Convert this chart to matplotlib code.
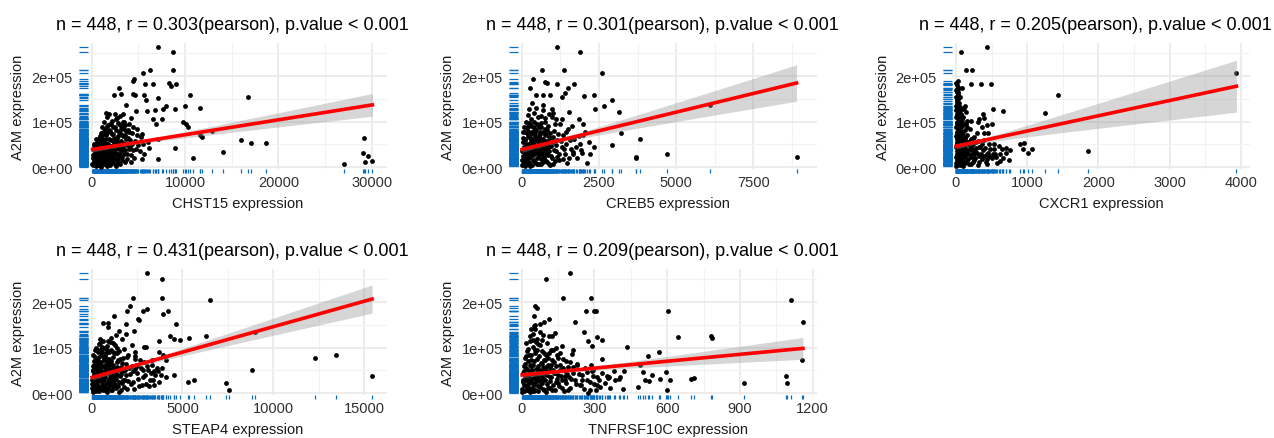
import numpy as np
import matplotlib.pyplot as plt

plt.rcParams['font.family'] = ['Liberation Sans', 'DejaVu Sans']

W, H = 1274, 439

genes = ["CHST15", "CREB5", "CXCR1", "STEAP4", "TNFRSF10C"]
r_values = ["0.303", "0.301", "0.205", "0.431", "0.209"]
n_samples = 448

# points (x = gene expression, y = A2M expression)
chst15_pts = [
    (7070, 265000), (8680, 254000), (8680, 213000), (6210, 214000), (5460, 207000), (4540, 193000),
    (4390, 190000), (5750, 182000), (6540, 182000), (8250, 184000), (8500, 178000), (9000, 183000),
    (2930, 174000), (2390, 158000), (3110, 161000), (4390, 160000), (4680, 159000), (5610, 158000),
    (5820, 148000), (7140, 153000), (10540, 158000), (16750, 154000), (7960, 134000), (7610, 128000),
    (6790, 126000), (8960, 128000), (10040, 135000), (11570, 130000), (3680, 136000), (4750, 124000),
    (5930, 124000), (1540, 119000), (6540, 106000), (7540, 106000), (9750, 99000), (10110, 95000),
    (10320, 89000), (6860, 95000), (5430, 72000), (11600, 70000), (11790, 67000), (12890, 79000),
    (15960, 60000), (17040, 53000), (18640, 53000), (14110, 34000), (10820, 20000), (8960, 42000),
    (7110, 62000), (7110, 17000), (6110, 43000), (5390, 18000), (29180, 64000), (29110, 32000),
    (29610, 24000), (30070, 13000), (29290, 11000), (27040, 7000), (4250, 11000),
    (150, 5000), (300, 12000), (420, 3000), (500, 22000), (650, 8000), (700, 30000), (820, 15000),
    (900, 41000), (980, 26000), (1050, 6000), (1100, 52000), (1200, 35000), (1250, 18000),
    (1320, 60000), (1400, 44000), (1450, 9000), (1500, 28000), (1580, 70000), (1650, 50000),
    (1700, 14000), (1780, 38000), (1850, 82000), (1900, 62000), (1950, 24000), (2050, 46000),
    (2100, 95000), (2150, 10000), (2200, 33000), (2280, 72000), (2350, 55000), (2420, 20000),
    (2500, 88000), (2550, 40000), (2620, 105000), (2700, 64000), (2750, 15000), (2820, 48000),
    (2900, 78000), (2950, 30000), (3050, 112000), (3100, 58000), (3200, 90000), (3250, 22000),
    (3350, 68000), (3400, 42000), (3500, 100000), (3600, 52000), (3700, 80000), (3800, 30000),
    (3900, 65000), (4000, 95000), (4150, 45000), (4300, 75000), (4450, 38000), (4600, 58000),
    (4800, 85000), (5000, 48000), (5300, 66000), (5600, 30000), (6000, 55000), (250, 30000),
    (350, 45000), (550, 55000), (750, 65000), (600, 38000), (950, 75000), (1150, 88000),
    (1350, 100000), (1600, 110000), (1800, 118000), (2000, 5000), (2600, 3000), (1000, 1000),
    (3000, 8000), (3600, 12000), (100, 20000), (200, 48000), (480, 62000), (780, 48000),
    (1250, 72000), (1720, 92000), (2450, 118000), (2850, 98000), (3350, 118000), (4200, 108000),
    (1600, 3000), (2300, 12000), (1300, 25000), (900, 58000), (2000, 80000), (2750, 30000),
    (3450, 85000),
]
chst15_core = [
    (80, 8000), (120, 26000), (180, 40000), (220, 14000), (260, 52000), (320, 4000), (380, 34000),
    (440, 18000), (520, 44000), (580, 10000), (620, 28000), (680, 52000), (720, 4000), (760, 22000),
    (840, 36000), (880, 68000), (940, 12000), (1000, 46000), (1040, 30000), (1080, 64000),
    (1120, 16000), (1180, 42000), (1220, 78000), (1280, 8000), (1340, 34000), (1380, 54000),
    (1420, 84000), (1480, 20000), (1520, 42000), (1560, 62000), (1620, 30000), (1680, 76000),
    (1720, 6000), (1760, 52000), (1820, 24000), (1880, 44000), (1920, 96000), (1980, 34000),
    (2020, 60000), (2080, 18000), (2120, 74000), (2180, 42000), (2240, 26000), (2300, 88000),
    (2360, 36000), (2400, 64000), (2460, 8000), (2520, 50000), (2580, 28000), (2640, 82000),
    (2680, 44000), (2740, 58000), (2800, 20000), (2860, 68000), (2920, 40000), (2980, 92000),
    (3020, 24000), (3080, 50000), (3140, 74000), (3180, 36000), (3260, 16000), (3300, 100000),
    (3380, 54000), (3440, 28000), (3520, 70000), (3580, 38000), (3660, 62000), (3740, 18000),
    (3820, 48000), (3880, 82000), (3960, 40000), (4080, 60000), (4180, 26000), (4350, 50000),
    (4520, 20000), (4700, 40000), (4900, 70000), (5200, 36000), (5500, 50000), (1100, 24000),
    (1400, 14000), (1700, 33000), (2000, 22000), (2300, 48000), (2600, 62000), (2900, 10000),
    (3200, 45000), (500, 36000), (800, 4000), (1600, 90000), (2200, 102000), (2700, 108000),
    (3100, 84000), (3600, 92000), (4000, 78000), (4400, 88000),
]
creb5_pts = [
    (1133, 265000), (1900, 254000), (670, 213000), (1360, 213000), (2590, 207000), (380, 194000),
    (755, 188000), (810, 185000), (1130, 182000), (1490, 175000), (1680, 182000), (270, 174000),
    (460, 158000), (680, 158000), (920, 159000), (1290, 154000), (1410, 163000), (2020, 157000),
    (2350, 159000), (2930, 148000), (2650, 134000), (2370, 127000), (3150, 122000), (680, 136000),
    (970, 128000), (1530, 122000), (1020, 120000), (1320, 105000), (1870, 105000), (1990, 95000),
    (1620, 91000), (3210, 76000), (3820, 61000), (2930, 49000), (2190, 56000), (2050, 78000),
    (1930, 37000), (2110, 9500), (3690, 22000), (3690, 20000), (4710, 28000), (8900, 22000),
    (6100, 136000), (1670, 33000), (1520, 20000),
    (20, 5000), (40, 25000), (60, 45000), (80, 12000), (100, 60000), (120, 32000), (140, 8000),
    (160, 75000), (180, 50000), (200, 20000), (220, 90000), (240, 38000), (260, 65000), (280, 3000),
    (300, 105000), (320, 55000), (340, 28000), (360, 80000), (380, 15000), (400, 120000),
    (420, 44000), (440, 68000), (460, 10000), (480, 95000), (500, 35000), (520, 58000),
    (540, 110000), (560, 22000), (580, 78000), (600, 48000), (620, 6000), (640, 88000),
    (660, 40000), (680, 125000), (700, 62000), (720, 18000), (740, 100000), (760, 52000),
    (780, 30000), (800, 72000), (830, 12000), (860, 90000), (890, 45000), (920, 65000),
    (950, 25000), (980, 110000), (1020, 55000), (1060, 80000), (1100, 35000), (1150, 60000),
    (1200, 15000), (1250, 95000), (1300, 45000), (1350, 70000), (1400, 28000), (1450, 50000),
    (1500, 85000), (1600, 40000), (1700, 62000), (1800, 20000), (1900, 50000), (2000, 70000),
    (2200, 30000), (2350, 45000), (60, 88000), (130, 100000), (190, 115000), (250, 128000),
    (330, 140000), (450, 130000), (90, 35000), (150, 18000), (230, 52000), (310, 72000),
    (410, 88000), (510, 8000), (590, 32000), (700, 42000), (850, 55000), (1000, 8000),
    (30, 65000), (110, 78000), (270, 95000), (370, 40000), (560, 68000), (750, 84000),
    (920, 5000), (1150, 22000),
]
creb5_core = [
    (10, 15000), (25, 35000), (45, 8000), (55, 55000), (70, 22000), (85, 42000), (95, 3000),
    (115, 62000), (125, 14000), (135, 48000), (150, 28000), (165, 85000), (175, 38000), (185, 6000),
    (195, 68000), (210, 30000), (225, 48000), (235, 12000), (250, 78000), (265, 42000),
    (275, 22000), (290, 58000), (305, 35000), (315, 90000), (330, 4000), (345, 62000),
    (355, 44000), (370, 26000), (385, 100000), (395, 52000), (410, 14000), (425, 76000),
    (435, 32000), (450, 60000), (465, 40000), (475, 82000), (490, 20000), (505, 65000),
    (515, 46000), (530, 28000), (545, 88000), (555, 6000), (570, 54000), (585, 38000),
    (595, 72000), (610, 18000), (625, 62000), (635, 98000), (650, 30000), (665, 50000),
    (675, 12000), (690, 78000), (705, 36000), (715, 56000), (730, 22000), (745, 70000),
    (755, 42000), (770, 108000), (785, 14000), (795, 58000), (810, 38000), (825, 82000),
    (840, 26000), (855, 48000), (870, 66000), (885, 8000), (900, 36000), (930, 76000),
    (960, 46000), (990, 20000), (1010, 66000), (1040, 38000), (1070, 95000), (1090, 14000),
    (1120, 48000), (1170, 72000), (1220, 30000), (1280, 58000), (1330, 18000), (1380, 40000),
    (1430, 78000), (1480, 10000), (1550, 60000), (1650, 28000), (1750, 45000), (1850, 68000),
    (1950, 32000), (1100, 105000), (880, 118000), (620, 112000), (230, 98000), (45, 78000),
]
cxcr1_pts = [
    (70, 254000), (440, 265000), (135, 213000), (225, 213000), (210, 183000), (355, 183000),
    (490, 182000), (85, 174000), (3940, 207000), (1430, 158000), (1245, 120000), (520, 129000),
    (665, 124000), (120, 135000), (385, 118000), (400, 108000), (325, 106000), (206, 101000),
    (315, 100000), (500, 96000), (365, 89000), (430, 93000), (455, 75000), (390, 75000),
    (260, 67000), (540, 51000), (900, 51000), (955, 53000), (940, 39000), (1010, 32000),
    (1065, 39000), (1850, 36000), (445, 31000), (555, 28000), (640, 39000), (705, 42000),
    (760, 37000), (625, 14000), (435, 17000), (325, 44000), (230, 39000), (160, 102000),
    (100, 128000),
    (5, 2000), (10, 15000), (15, 35000), (8, 55000), (20, 75000), (12, 95000), (25, 115000),
    (6, 135000), (18, 150000), (30, 165000), (10, 180000), (22, 190000), (35, 8000), (40, 28000),
    (45, 48000), (38, 68000), (50, 88000), (42, 108000), (55, 125000), (48, 140000), (60, 155000),
    (3, 170000), (65, 20000), (70, 40000), (75, 60000), (68, 80000), (80, 100000), (72, 118000),
    (85, 12000), (90, 32000), (95, 52000), (88, 72000), (100, 92000), (105, 3000), (110, 22000),
    (115, 42000), (120, 62000), (125, 82000), (130, 10000), (140, 30000), (150, 50000),
    (160, 70000), (170, 18000), (180, 38000), (190, 58000), (200, 85000), (210, 8000),
    (220, 28000), (230, 48000), (240, 65000), (250, 15000), (265, 35000), (280, 55000),
    (295, 75000), (310, 5000), (325, 25000), (340, 45000), (360, 18000), (380, 38000),
    (400, 60000), (420, 12000), (440, 30000), (470, 50000), (500, 20000), (540, 40000),
    (580, 10000), (620, 28000), (15, 62000), (28, 42000), (33, 85000), (58, 100000),
    (62, 132000), (25, 160000), (45, 175000), (8, 25000), (52, 5000), (78, 45000), (95, 110000),
    (135, 95000), (145, 122000), (108, 130000), (155, 88000), (12, 128000), (20, 145000),
]
cxcr1_core = [
    (2, 10000), (4, 22000), (6, 45000), (3, 68000), (7, 88000), (2, 110000), (5, 125000),
    (9, 140000), (4, 155000), (11, 165000), (6, 185000), (14, 5000), (16, 28000), (13, 50000),
    (17, 78000), (19, 100000), (15, 118000), (21, 132000), (18, 172000), (24, 18000), (26, 38000),
    (23, 58000), (27, 92000), (29, 108000), (26, 122000), (31, 150000), (34, 32000), (36, 52000),
    (33, 72000), (37, 98000), (39, 120000), (35, 138000), (41, 15000), (43, 38000), (46, 62000),
    (44, 82000), (47, 95000), (49, 115000), (51, 26000), (53, 44000), (56, 68000), (54, 92000),
    (57, 112000), (59, 18000), (61, 36000), (63, 58000), (66, 74000), (64, 96000), (67, 30000),
    (71, 10000), (73, 50000), (76, 88000), (79, 22000), (82, 62000), (84, 40000), (87, 105000),
    (91, 15000), (93, 45000), (97, 78000), (102, 30000), (107, 56000), (112, 12000), (118, 36000),
    (123, 48000), (128, 25000), (133, 66000), (138, 40000), (148, 16000), (158, 34000),
    (165, 55000), (175, 28000), (185, 6000), (195, 46000), (205, 22000), (215, 62000),
    (225, 38000), (235, 12000), (245, 52000), (255, 30000), (270, 20000), (285, 42000),
    (300, 32000), (315, 58000), (330, 12000), (350, 30000), (370, 50000), (390, 24000),
    (410, 42000), (430, 8000), (460, 24000), (480, 40000), (520, 30000), (560, 22000),
    (600, 46000), (660, 20000), (700, 32000), (740, 15000),
]
steap4_pts = [
    (3050, 264000), (3850, 251000), (3890, 210000), (2260, 210000), (6500, 205000), (2130, 191000),
    (1950, 181000), (2830, 181000), (3030, 185000), (4180, 180000), (3930, 174000), (1230, 170000),
    (2550, 163000), (2620, 160000), (640, 155000), (880, 155000), (920, 146000), (1910, 151000),
    (4660, 151000), (1500, 136000), (2310, 137000), (1050, 121000), (1320, 127000), (1890, 130000),
    (4330, 126000), (4510, 119000), (4880, 117000), (5380, 122000), (6310, 125000), (9010, 134000),
    (2880, 101000), (2970, 101000), (3710, 114000), (3710, 91000), (3320, 74000), (4110, 74000),
    (3910, 85000), (2240, 107000), (4530, 41000), (3450, 48000), (3670, 48000), (3430, 19000),
    (5280, 25000), (5630, 30000), (7380, 22000), (7580, 8000), (8830, 51000), (12290, 78000),
    (13450, 83000), (15450, 37000), (2390, 90000), (2370, 82000), (2390, 53000), (2480, 60000),
    (50, 3000), (100, 20000), (150, 40000), (200, 10000), (250, 55000), (300, 28000), (350, 70000),
    (400, 5000), (450, 45000), (500, 85000), (550, 18000), (600, 60000), (650, 35000),
    (700, 100000), (750, 12000), (800, 50000), (850, 75000), (900, 25000), (950, 90000),
    (1000, 40000), (1050, 65000), (1100, 8000), (1150, 55000), (1200, 80000), (1250, 30000),
    (1300, 105000), (1350, 45000), (1400, 68000), (1450, 15000), (1500, 92000), (1550, 38000),
    (1600, 58000), (1650, 22000), (1700, 78000), (1750, 48000), (1800, 98000), (1850, 30000),
    (1900, 65000), (1950, 10000), (2000, 85000), (2100, 42000), (2200, 60000), (2300, 25000),
    (2400, 75000), (2500, 45000), (2600, 15000), (2700, 55000), (2800, 35000), (2900, 68000),
    (3000, 20000), (3100, 50000), (3200, 30000), (3300, 62000), (3500, 40000), (3700, 25000),
    (3900, 55000), (4100, 35000), (120, 62000), (180, 80000), (280, 95000), (380, 108000),
    (480, 120000), (580, 102000), (680, 78000), (780, 88000), (880, 115000), (980, 60000),
    (1080, 95000), (1180, 110000), (1280, 20000), (1380, 88000), (1480, 2000), (1580, 75000),
    (1680, 120000), (80, 35000), (230, 15000), (330, 48000), (420, 62000), (520, 30000),
    (620, 8000), (720, 42000), (820, 2000), (920, 68000), (1020, 18000), (1120, 35000),
    (1220, 48000), (60, 50000), (160, 25000), (260, 75000), (360, 12000), (460, 28000),
]
steap4_core = [
    (20, 12000), (40, 30000), (70, 6000), (90, 48000), (110, 22000), (130, 40000), (140, 70000),
    (170, 14000), (190, 55000), (210, 32000), (240, 4000), (270, 45000), (290, 22000), (310, 62000),
    (340, 38000), (370, 16000), (390, 80000), (410, 30000), (440, 55000), (470, 10000),
    (490, 40000), (510, 68000), (540, 24000), (570, 48000), (590, 90000), (610, 14000),
    (640, 42000), (660, 72000), (690, 28000), (710, 58000), (740, 6000), (760, 36000),
    (790, 64000), (810, 20000), (840, 46000), (860, 95000), (890, 12000), (910, 54000),
    (940, 32000), (970, 76000), (990, 22000), (1010, 50000), (1040, 8000), (1060, 38000),
    (1090, 70000), (1110, 26000), (1140, 44000), (1170, 16000), (1190, 62000), (1230, 36000),
    (1260, 88000), (1290, 50000), (1320, 12000), (1360, 32000), (1390, 58000), (1420, 40000),
    (1470, 72000), (1510, 24000), (1540, 50000), (1590, 8000), (1620, 42000), (1660, 66000),
    (1710, 30000), (1760, 14000), (1820, 52000), (1870, 40000), (1930, 80000), (1980, 26000),
    (2050, 55000), (2150, 20000), (2250, 48000), (2350, 10000), (2450, 62000), (2550, 32000),
    (2650, 72000), (2750, 18000), (2850, 50000), (2950, 40000), (3050, 60000), (3150, 15000),
    (3250, 45000), (3400, 28000), (3600, 55000), (3800, 40000), (30, 20000), (60, 60000),
    (95, 85000), (130, 10000), (175, 95000), (215, 70000), (255, 100000), (330, 90000),
    (430, 110000), (530, 98000), (630, 115000), (730, 82000), (830, 104000), (1000, 112000),
    (1150, 90000), (1400, 100000),
]
tnfrsf10c_pts = [
    (198, 264000), (100, 251000), (169, 210000), (287, 210000), (1111, 205000), (264, 180000),
    (298, 180000), (305, 180000), (602, 180000), (54, 191000), (65, 187000), (49, 169000),
    (111, 162000), (220, 157000), (1160, 157000), (76, 152000), (92, 156000), (55, 150000),
    (136, 133000), (111, 126000), (124, 126000), (258, 134000), (309, 123000), (330, 118000),
    (274, 114000), (643, 123000), (782, 125000), (785, 121000), (433, 102000), (166, 104000),
    (212, 96000), (209, 86000), (291, 103000), (566, 90000), (521, 81000), (330, 76000),
    (1156, 74000), (487, 62000), (594, 47000), (382, 49000), (424, 48000), (499, 47000),
    (536, 40000), (570, 32000), (612, 28000), (407, 35000), (403, 31000), (700, 31000),
    (711, 34000), (918, 23000), (1091, 38000), (1096, 22000), (480, 14000), (507, 28000),
    (526, 26000), (598, 7000), (416, 9000), (323, 13000), (272, 1000), (352, 38000),
    (360, 35000), (355, 34000), (295, 38000), (285, 63000), (227, 62000), (245, 18000),
    (312, 18000),
    (3, 2000), (8, 18000), (12, 38000), (16, 8000), (20, 55000), (24, 28000), (28, 70000),
    (32, 12000), (36, 45000), (40, 85000), (44, 22000), (48, 62000), (52, 5000), (56, 95000),
    (60, 35000), (64, 75000), (68, 15000), (72, 50000), (76, 105000), (80, 30000), (84, 65000),
    (88, 10000), (92, 88000), (96, 42000), (100, 58000), (105, 20000), (110, 78000),
    (115, 35000), (120, 95000), (125, 8000), (130, 52000), (135, 68000), (140, 25000),
    (145, 85000), (150, 40000), (155, 15000), (160, 62000), (165, 30000), (170, 75000),
    (175, 5000), (180, 48000), (185, 22000), (190, 58000), (195, 35000), (200, 12000),
    (210, 45000), (220, 28000), (230, 65000), (240, 18000), (250, 40000), (260, 55000),
    (270, 30000), (280, 8000), (290, 48000), (300, 20000), (310, 35000), (35, 115000),
    (45, 130000), (55, 140000), (65, 120000), (75, 135000), (85, 118000), (50, 148000),
    (60, 112000), (25, 98000), (15, 65000), (10, 48000), (30, 25000), (42, 5000), (62, 42000),
    (78, 22000), (98, 72000), (118, 12000), (138, 45000), (158, 88000), (178, 38000),
    (198, 68000), (6, 30000), (18, 82000), (38, 60000), (58, 28000), (82, 48000), (102, 3000),
    (122, 62000), (142, 100000),
]
tnfrsf10c_core = [
    (2, 10000), (5, 25000), (7, 45000), (9, 4000), (11, 60000), (13, 30000), (14, 78000),
    (17, 15000), (19, 40000), (21, 92000), (22, 8000), (26, 52000), (27, 20000), (29, 85000),
    (31, 38000), (33, 62000), (34, 2000), (37, 28000), (39, 72000), (41, 12000), (43, 50000),
    (46, 34000), (47, 102000), (49, 18000), (51, 70000), (53, 42000), (54, 88000), (57, 8000),
    (59, 54000), (61, 24000), (63, 96000), (66, 38000), (67, 60000), (69, 4000), (71, 82000),
    (73, 30000), (74, 46000), (77, 14000), (79, 66000), (81, 40000), (83, 92000), (86, 22000),
    (87, 56000), (89, 34000), (91, 74000), (94, 6000), (95, 50000), (97, 28000), (99, 84000),
    (103, 40000), (107, 62000), (109, 12000), (112, 48000), (114, 88000), (117, 26000),
    (119, 58000), (123, 36000), (127, 72000), (129, 18000), (133, 44000), (137, 8000),
    (141, 60000), (144, 32000), (148, 78000), (152, 22000), (157, 50000), (162, 38000),
    (168, 12000), (172, 56000), (177, 28000), (182, 70000), (188, 42000), (193, 6000),
    (202, 32000), (212, 58000), (224, 20000), (236, 42000), (248, 28000), (258, 10000),
    (268, 46000), (280, 24000), (295, 52000), (305, 8000), (318, 30000), (330, 44000),
    (345, 22000), (365, 12000), (385, 30000), (16, 110000), (36, 125000), (48, 118000),
    (68, 108000), (88, 128000), (40, 140000), (104, 110000), (128, 95000),
]
all_pts = [chst15_pts + chst15_core, creb5_pts + creb5_core, cxcr1_pts + cxcr1_core,
           steap4_pts + steap4_core, tnfrsf10c_pts + tnfrsf10c_core]

# fitted line ends and CI half widths
line_start = [39000, 39000, 46000, 34500, 40000]
line_end = [137000, 185000, 178000, 207000, 98500]
band_min = [4000, 4500, 5000, 4000, 4000]
band_end = [25000, 40000, 57000, 31000, 24000]

x_ticks = [[0, 10000, 20000, 30000], [0, 2500, 5000, 7500], [0, 1000, 2000, 3000, 4000],
           [0, 5000, 10000, 15000], [0, 300, 600, 900, 1200]]
x_minor = [[5000, 15000, 25000], [1250, 3750, 6250, 8750], [500, 1500, 2500, 3500],
           [2500, 7500, 12500], [150, 450, 750, 1050]]
x_lims = [(-400, 31640), (-120, 9563), (-56, 4131), (-204, 16270), (-15, 1218)]
y_ticks = [0, 100000, 200000]
y_tick_labels = ["0e+00", "1e+05", "2e+05"]
y_minor = [50000, 150000, 250000]

# panel boxes in pixels: left, top, right, bottom
boxes = [(88, 44, 387, 170), (518, 44, 817, 170), (952, 44, 1250, 170),
         (88, 270, 387, 396), (518, 270, 817, 396)]
title_x = [232, 662, 1095, 232, 662]
ylab_x = [18, 448, 883, 18, 448]

rug_col = "#0a6fc2"

fig = plt.figure(figsize=(W / 100, H / 100), dpi=100)

for i in range(5):
    l, t, r, b = boxes[i]
    ax = fig.add_axes([l / W, 1 - b / H, (r - l) / W, (b - t) / H])
    pts = np.array(all_pts[i], dtype=float)
    x, y = pts[:, 0], pts[:, 1]

    ax.set_xlim(*x_lims[i])
    ax.set_ylim(-4000, 273000)
    ax.set_xticks(x_ticks[i])
    ax.set_xticks(x_minor[i], minor=True)
    ax.set_yticks(y_ticks)
    ax.set_yticklabels(y_tick_labels)
    ax.set_yticks(y_minor, minor=True)
    ax.grid(True, which="major", color="#ebebeb", lw=1.3)
    ax.grid(True, which="minor", color="#f2f2f2", lw=0.8)
    ax.set_axisbelow(True)
    for s in ax.spines.values():
        s.set_visible(False)
    ax.tick_params(which="both", length=0)
    ax.tick_params(axis="y", pad=11, labelsize=10.5, labelcolor="#303030")
    ax.tick_params(axis="x", pad=4.5, labelsize=10.5, labelcolor="#303030")

    ax.scatter(x, y, s=12, color="black", linewidths=0, zorder=3)

    # regression line + confidence band
    x0, x1 = x.min(), x.max()
    xs = np.linspace(x0, x1, 200)
    ys = line_start[i] + (line_end[i] - line_start[i]) * (xs - x0) / (x1 - x0)
    xbar = x.mean()
    k = (band_end[i] ** 2 - band_min[i] ** 2) / (x1 - xbar) ** 2
    half = np.sqrt(band_min[i] ** 2 + k * (xs - xbar) ** 2)
    ax.fill_between(xs, ys - half, ys + half, color="#999999", alpha=0.4, lw=0, zorder=4)
    ax.plot(xs, ys, color="red", lw=2.6, zorder=5)

    # rugs outside the panel
    ax.vlines(x, -0.03, 0, transform=ax.get_xaxis_transform(), color=rug_col,
              lw=0.9, clip_on=False)
    ax.hlines(y, -0.03, 0, transform=ax.get_yaxis_transform(), color=rug_col,
              lw=0.9, clip_on=False)

    title = "n = %d, r = %s(pearson), p.value < 0.001" % (n_samples, r_values[i])
    fig.text(title_x[i] / W, 1 - (t - 19) / H, title, ha="center", va="center", fontsize=13)
    fig.text((l + r) / 2 / W, 1 - (b + 34) / H, genes[i] + " expression",
             ha="center", va="center", fontsize=10.5, color="#1a1a1a")
    fig.text(ylab_x[i] / W, 1 - (t + b) / 2 / H, "A2M expression", rotation=90,
             ha="center", va="center", fontsize=10.5, color="#1a1a1a")

fig.savefig("out.png", dpi=100)
